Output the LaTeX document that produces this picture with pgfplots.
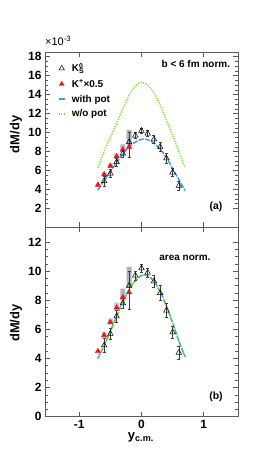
\documentclass[border=0pt]{standalone}
\usepackage{fontspec}
\setmainfont{Liberation Sans}
\usepackage{pgfplots}
\pgfplotsset{compat=1.18}
\definecolor{kblue}{RGB}{60,150,240}
\definecolor{kgreen}{RGB}{110,230,20}
\definecolor{kred}{RGB}{240,20,20}
\definecolor{framec}{RGB}{90,90,90}
\definecolor{sysbox}{RGB}{140,158,158}
\pgfplotsset{
 common/.style={
  scale only axis, width=193bp,
  xmin=-1.55, xmax=1.55,
  xtick={-1,0,1},
  axis line style={framec, line width=0.7bp},
  tick style={framec, line width=0.7bp},
  major tick length=5bp, minor tick length=2.6bp,
  minor y tick num=3,
  tick label style={font=\bfseries\fontsize{12}{12}\selectfont},
  /pgf/number format/assume math mode=true,
  label style={font=\bfseries\fontsize{13}{13}\selectfont},
  ylabel={dM/dy},
 },
 k0/.style={black, line width=0.5bp, only marks, mark=triangle, mark size=3.2bp,
    error bars/y dir=both, error bars/y explicit,
    error bars/error bar style={line width=0.5bp, black!75},
    error bars/error mark options={rotate=90, mark size=1.5bp, line width=0.5bp, black!75}},
 kp/.style={kred, only marks, mark=triangle*, mark size=3bp, mark options={draw=kred, fill=kred}},
 wp/.style={kblue, line width=1.5bp, dash pattern=on 5bp off 1.5bp, smooth, mark=none},
 wop/.style={kgreen, line width=1.4bp, dash pattern=on 1.2bp off 1.4bp, smooth, mark=none},
 sys/.style={fill=sysbox, draw=none, fill opacity=0.75, mark=none},
 sysl/.style={fill=sysbox, draw=none, fill opacity=0.45, mark=none},
 markleg/.style={legend image code/.code={\draw[##1] plot coordinates {(3.5bp,0bp)};}},
 lineleg/.style={legend image code/.code={\draw[##1] (0.3bp,0bp) -- (6.8bp,0bp);}},
}
\begin{document}
\begin{tikzpicture}
\path[use as bounding box] (0,0) rectangle (268bp,456bp);
% ---------------- top panel ----------------
\begin{axis}[common, name=top,
  at={(45bp,228.5bp)}, anchor=south west, height=175.5bp,
  ymin=0, ymax=18.5, ytick={2,4,...,18},
  xticklabels={},
  ylabel style={at={(axis description cs:-0.15,0.53)}, anchor=center},
  legend style={at={(rel axis cs:0.065,0.948)}, anchor=north west, draw=none, fill=none,
    font=\bfseries\fontsize{10}{11}\selectfont, inner sep=0pt, row sep=2.2bp,
    /tikz/every odd column/.append style={column sep=4bp}},
  legend cell align=left,
]
\addlegendimage{black, line width=0.5bp, mark=triangle, mark size=3bp, markleg}
\addlegendentry{K\rlap{\textsuperscript{0}}\textsubscript{S}\rule[-3.5bp]{0pt}{1bp}}
\addlegendimage{kred, mark=triangle*, mark size=2.8bp, mark options={draw=kred,fill=kred}, markleg}
\addlegendentry{K\textsuperscript{+}×0.5}
\addlegendimage{draw=kblue, line width=1.6bp, lineleg}
\addlegendentry{with pot}
\addlegendimage{draw=kgreen, line width=1.4bp, dash pattern=on 1.2bp off 1.4bp, lineleg}
\addlegendentry{w/o pot}
% systematic boxes
\addplot[sys, forget plot] coordinates {(-0.24,8.7) (-0.16,8.7) (-0.16,10.3) (-0.24,10.3) (-0.24,8.7)};
\addplot[sys, forget plot] coordinates {(-0.34,7.95) (-0.26,7.95) (-0.26,8.75) (-0.34,8.75) (-0.34,7.95)};
\addplot[sysl, forget plot] coordinates {(-0.44,7.3) (-0.36,7.3) (-0.36,7.8) (-0.44,7.8) (-0.44,7.3)};
\addplot[sysl, forget plot] coordinates {(-0.54,6.3) (-0.46,6.3) (-0.46,6.75) (-0.54,6.75) (-0.54,6.3)};
\addplot[sysl, forget plot] coordinates {(-0.64,5.4) (-0.56,5.4) (-0.56,5.85) (-0.64,5.85) (-0.64,5.4)};
% curves
\addplot[wp, forget plot] coordinates {(-0.7,3.95) (-0.6,4.95) (-0.5,5.9) (-0.4,6.85) (-0.3,7.75) (-0.2,8.5) (-0.1,9.0) (0,9.3) (0.1,9.25) (0.2,8.9) (0.3,8.25) (0.4,7.4) (0.5,6.2) (0.6,5.05) (0.7,3.9)};
\addplot[wop, forget plot] coordinates {(-0.7,6.3) (-0.6,8.0) (-0.5,9.5) (-0.4,11.0) (-0.3,12.5) (-0.2,13.9) (-0.1,14.9) (0,15.3) (0.1,15.0) (0.2,14.2) (0.3,12.9) (0.4,11.3) (0.5,9.7) (0.6,8.0) (0.7,6.3)};
% data
\addplot[kp, forget plot] coordinates {(-0.7,4.5) (-0.6,5.6) (-0.5,6.5) (-0.4,7.5) (-0.3,8.2) (-0.2,8.5)};
\addplot[k0, forget plot] coordinates {
 (-0.6,4.9) +- (0,0.5)
 (-0.5,5.7) +- (0,0.4)
 (-0.4,6.9) +- (0,0.4)
 (-0.3,7.8) +- (0,0.35)
 (-0.2,9.0) += (0,1.0) -= (0,1.6)
 (-0.1,9.7) +- (0,0.3)
 (0.0,10.2) +- (0,0.3)
 (0.1,9.9) +- (0,0.3)
 (0.2,9.3) +- (0,0.4)
 (0.3,8.5) +- (0,0.5)
 (0.4,7.3) +- (0,0.5)
 (0.5,5.8) +- (0,0.4)
 (0.6,4.4) +- (0,0.45)};
\node[anchor=east, inner sep=0pt, font=\bfseries\fontsize{10}{10}\selectfont] at (rel axis cs:0.96,0.93) {b < 6 fm norm.};
\node[inner sep=0pt, font=\bfseries\fontsize{10.5}{10.5}\selectfont] at (rel axis cs:0.886,0.117) {(a)};
\end{axis}
\node[anchor=south west, inner sep=0pt, yshift=6.5bp, font=\fontsize{11}{11}\selectfont] at (top.north west) {×10\textsuperscript{-3}};
% ---------------- bottom panel ----------------
\begin{axis}[common,
  at={(45bp,39.3bp)}, anchor=south west, height=189.2bp,
  ymin=0, ymax=13, ytick={0,2,...,12},
  xticklabels={-1,0,1},
  xlabel={y\textsubscript{c.m.}},
  xlabel style={at={(axis description cs:0.497,-0.123)}, anchor=base},
  ylabel style={at={(axis description cs:-0.15,0.495)}, anchor=center},
]
\addplot[sys] coordinates {(-0.24,8.85) (-0.16,8.85) (-0.16,10.3) (-0.24,10.3) (-0.24,8.85)};
\addplot[sys] coordinates {(-0.34,8.05) (-0.26,8.05) (-0.26,8.8) (-0.34,8.8) (-0.34,8.05)};
\addplot[sysl] coordinates {(-0.44,7.3) (-0.36,7.3) (-0.36,7.85) (-0.44,7.85) (-0.44,7.3)};
\addplot[sysl] coordinates {(-0.54,6.3) (-0.46,6.3) (-0.46,6.75) (-0.54,6.75) (-0.54,6.3)};
\addplot[sysl] coordinates {(-0.64,5.4) (-0.56,5.4) (-0.56,5.85) (-0.64,5.85) (-0.64,5.4)};
\addplot[wp] coordinates {(-0.7,4.0) (-0.6,4.9) (-0.5,5.85) (-0.4,6.9) (-0.3,7.9) (-0.2,8.7) (-0.1,9.35) (0,9.7) (0.1,9.7) (0.2,9.3) (0.3,8.6) (0.4,7.6) (0.5,6.45) (0.6,5.2) (0.7,4.1)};
\addplot[wop] coordinates {(-0.7,4.02) (-0.6,4.92) (-0.5,5.87) (-0.4,6.92) (-0.3,7.9) (-0.2,8.72) (-0.1,9.36) (0,9.72) (0.1,9.7) (0.2,9.3) (0.3,8.6) (0.4,7.6) (0.5,6.45) (0.6,5.22) (0.7,4.1)};
\addplot[kp] coordinates {(-0.7,4.5) (-0.6,5.6) (-0.5,6.5) (-0.4,7.5) (-0.3,8.2) (-0.2,8.55)};
\addplot[k0] coordinates {
 (-0.6,4.9) +- (0,0.5)
 (-0.5,5.7) +- (0,0.4)
 (-0.4,6.9) +- (0,0.4)
 (-0.3,7.8) +- (0,0.35)
 (-0.2,9.0) += (0,1.0) -= (0,1.6)
 (-0.1,9.7) +- (0,0.3)
 (0.0,10.2) +- (0,0.3)
 (0.1,9.9) +- (0,0.3)
 (0.2,9.3) +- (0,0.4)
 (0.3,8.5) +- (0,0.5)
 (0.4,7.3) +- (0,0.5)
 (0.5,5.8) +- (0,0.4)
 (0.6,4.4) +- (0,0.45)};
\node[inner sep=0pt, font=\bfseries\fontsize{10}{10}\selectfont] at (rel axis cs:0.725,0.84) {area norm.};
\node[inner sep=0pt, font=\bfseries\fontsize{10.5}{10.5}\selectfont] at (rel axis cs:0.886,0.104) {(b)};
\end{axis}
\end{tikzpicture}
\end{document}
